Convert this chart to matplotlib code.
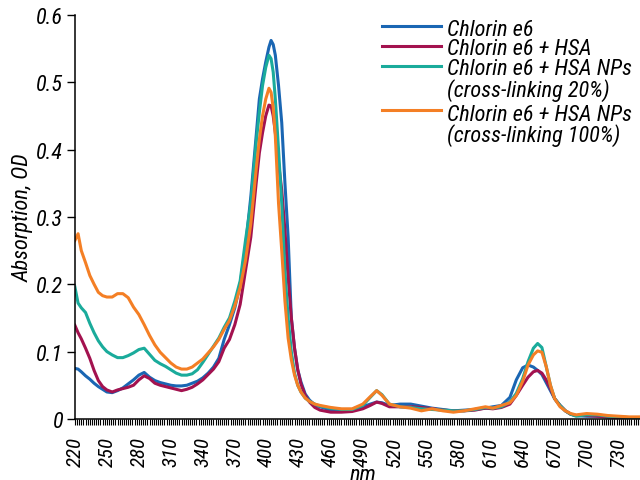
import matplotlib
matplotlib.use("Agg")
import matplotlib.pyplot as plt
from matplotlib import font_manager
from matplotlib.lines import Line2D
from matplotlib.ticker import MultipleLocator, FixedLocator

wavelength = [
    220, 223, 226, 230, 234, 238, 242, 246, 250, 255, 260, 265, 270, 275, 280,
    285, 290, 295, 300, 305, 310, 315, 320, 325, 330, 335, 340, 345, 350, 355,
    360, 365, 370, 375, 380, 385, 390, 393, 396, 399, 402, 404, 406, 408, 411,
    414, 417, 420, 423, 426, 429, 432, 436, 440, 445, 450, 460, 470, 480, 490,
    497, 503, 508, 515, 525, 535, 545, 555, 565, 575, 585, 595, 605, 612, 620,
    628, 634, 640, 645, 650, 654, 658, 662, 666, 670, 675, 680, 685, 690, 700,
    710, 720, 730, 740, 750,
]

ce6 = [
    .075, .074, .070, .064, .059, .053, .048, .044, .040, .039, .042, .046, .052, .058, .065,
    .069, .062, .057, .054, .052, .050, .049, .049, .050, .053, .056, .061, .068, .077, .090,
    .118, .140, .165, .200, .255, .330, .420, .475, .505, .530, .552, .562, .556, .540, .495,
    .440, .350, .270, .150, .105, .073, .055, .037, .028, .021, .018, .013, .012, .013, .018,
    .022, .025, .024, .020, .022, .022, .019, .016, .014, .012, .013, .014, .016, .018, .020,
    .032, .058, .076, .080, .077, .072, .066, .054, .042, .030, .020, .012, .007, .005, .004,
    .004, .003, .002, .002, .001,
]

ce6_hsa = [
    .139, .128, .119, .105, .090, .072, .057, .048, .043, .040, .043, .045, .047, .050, .058,
    .064, .060, .053, .050, .048, .046, .044, .042, .044, .047, .052, .058, .066, .074, .085,
    .105, .118, .140, .170, .220, .270, .350, .395, .425, .450, .466, .465, .450, .425, .380,
    .340, .280, .210, .150, .105, .073, .052, .035, .025, .017, .013, .010, .010, .011, .015,
    .020, .025, .023, .018, .018, .018, .017, .015, .013, .012, .012, .013, .016, .015, .017,
    .022, .035, .050, .062, .070, .072, .068, .058, .045, .030, .020, .012, .007, .005, .005,
    .004, .003, .002, .002, .001,
]

ce6_np20 = [
    .196, .172, .165, .158, .142, .128, .116, .107, .100, .095, .091, .091, .094, .098, .103,
    .105, .096, .087, .082, .078, .073, .068, .065, .065, .067, .073, .084, .096, .108, .120,
    .136, .150, .175, .205, .265, .320, .410, .455, .495, .522, .540, .535, .515, .475, .400,
    .320, .220, .150, .100, .068, .050, .040, .031, .026, .022, .019, .016, .014, .014, .020,
    .032, .042, .036, .022, .018, .017, .015, .014, .013, .012, .012, .014, .017, .016, .018,
    .025, .038, .060, .085, .105, .112, .106, .078, .050, .030, .020, .012, .007, .004, .006,
    .006, .004, .003, .002, .001,
]

ce6_np100 = [
    .265, .275, .250, .232, .213, .200, .188, .183, .181, .181, .186, .186, .180, .166, .155,
    .140, .124, .110, .099, .091, .083, .077, .074, .074, .077, .083, .089, .098, .107, .118,
    .133, .146, .168, .195, .235, .290, .370, .415, .450, .475, .491, .485, .462, .420, .320,
    .250, .175, .120, .088, .065, .050, .040, .031, .026, .022, .020, .017, .015, .015, .022,
    .033, .042, .035, .022, .018, .016, .012, .015, .012, .010, .012, .015, .018, .016, .020,
    .024, .035, .056, .080, .095, .101, .099, .078, .050, .030, .018, .012, .008, .006, .008,
    .007, .005, .004, .003, .003,
]

colors = ["#1a66b3", "#a3124f", "#1aab9b", "#f47f25"]
series = [ce6, ce6_hsa, ce6_np20, ce6_np100]

xticks = list(range(220, 731, 30))
yticks = [0, 0.1, 0.2, 0.3, 0.4, 0.5, 0.6]
ytick_labels = ["0", "0.1", "0.2", "0.3", "0.4", "0.5", "0.6"]

# pick a narrow face if one is around
names = {f.name for f in font_manager.fontManager.ttflist}
narrow = [n for n in ["Liberation Sans Narrow", "Arial Narrow", "Roboto Condensed",
                      "DejaVu Sans Condensed"] if n in names]
plt.rcParams["font.family"] = narrow + ["DejaVu Sans"]
plt.rcParams["font.style"] = "italic"
plt.rcParams["font.stretch"] = "condensed"
fs = 16 if narrow else 13

fig = plt.figure(figsize=(6.4, 4.81), dpi=100)
ax = fig.add_axes([0.117, 0.127, 0.883, 0.840])

for ys, c in zip(series, colors):
    ax.plot(wavelength, ys, color=c, lw=2.2, solid_joinstyle="round")

ax.set_xlim(220, 750)
ax.set_ylim(0, 0.6)
ax.xaxis.set_major_locator(FixedLocator(xticks))
ax.xaxis.set_minor_locator(MultipleLocator(2))
ax.set_xticklabels([str(t) for t in xticks], rotation=90, fontsize=fs - 1)
ax.set_yticks(yticks)
ax.set_yticklabels(ytick_labels, fontsize=fs)
ax.tick_params(axis="x", which="both", length=4.5, width=0.8, direction="out", pad=8)
ax.tick_params(axis="y", length=5.5, width=1, direction="out", pad=3)

for s in ["top", "right"]:
    ax.spines[s].set_visible(False)
for s in ["left", "bottom"]:
    ax.spines[s].set_linewidth(1.1)

ax.set_xlabel("nm", fontsize=fs)
ax.xaxis.label.set_va("baseline")
ax.xaxis.set_label_coords(0.51, -0.152)
ax.set_ylabel("Absorption, OD", fontsize=fs, labelpad=2)

# legend drawn by hand so the line sits on the first text row
W, H = 640, 481
rows = [
    (35.5, "Chlorin e6", 27),
    (55.0, "Chlorin e6 + HSA", 47),
    (75.0, "Chlorin e6 + HSA NPs", 67),
    (97.0, "(cross-linking 20%)", None),
    (121.0, "Chlorin e6 + HSA NPs", 111),
    (141.5, "(cross-linking 100%)", None),
]
ci = 0
for base, txt, line_y in rows:
    fig.text(447 / W, 1 - base / H, txt, fontsize=fs, va="baseline", ha="left")
    if line_y is not None:
        fig.add_artist(Line2D([382 / W, 441 / W], [1 - line_y / H] * 2,
                              color=colors[ci], lw=2.2, transform=fig.transFigure))
        ci += 1

fig.savefig("out.png", dpi=100)
